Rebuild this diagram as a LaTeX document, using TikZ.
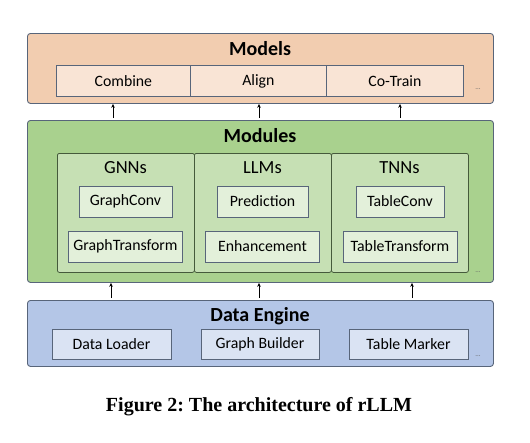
\documentclass[tikz,border=0pt]{standalone}
\usepackage{fontspec}
\setmainfont{Carlito}
\newfontfamily\capfont{Liberation Serif}
\usetikzlibrary{arrows.meta}
\frenchspacing
\definecolor{orOuter}{HTML}{F2CDB0}
\definecolor{orInner}{HTML}{F9E4D5}
\definecolor{grOuter}{HTML}{A9D18E}
\definecolor{grMid}{HTML}{C6E0B4}
\definecolor{grInner}{HTML}{E3F0DA}
\definecolor{blOuter}{HTML}{B4C6E7}
\definecolor{blInner}{HTML}{DAE3F3}
\definecolor{edgeBlue}{HTML}{58657A}
\definecolor{edgeGreen}{HTML}{56704A}
\tikzset{
  outerbox/.style={draw=edgeBlue, line width=0.9pt, rounded corners=3pt},
  panel/.style={draw=edgeGreen!80!black, line width=0.8pt, rounded corners=2pt, fill=grMid},
  leaf/.style={draw=edgeBlue, line width=0.8pt, inner sep=0pt},
  ttl/.style={font=\fontsize{20}{23}\selectfont\bfseries},
  ptl/.style={font=\fontsize{18.5}{21}\selectfont},
  lbl/.style={font=\fontsize{15.8}{18}\selectfont},
  dots/.style={font=\fontsize{7}{8}\selectfont, text=black!60},
  arr/.style={-{Stealth[length=4pt,width=3.5pt]}, line width=0.6pt}
}
\begin{document}
\begin{tikzpicture}[x=1pt,y=-1pt]
\useasboundingbox (0,0) rectangle (530,442);
% Models
\node[outerbox, fill=orOuter, minimum width=466pt, minimum height=70pt, anchor=north west] (models) at (27,33) {};
\node[ttl] (modelsT) at (260,49) {Models};
\node[leaf, fill=orInner, minimum width=134pt, minimum height=31pt, anchor=north west, lbl] (combine) at (56,65) {Combine};
\node[leaf, fill=orInner, minimum width=136pt, minimum height=31pt, anchor=north west, lbl] (align) at (190,65) {Align};
\node[leaf, fill=orInner, minimum width=137pt, minimum height=31pt, anchor=north west, lbl] (cotrain) at (326,65) {Co-Train};
\node[dots] (mdots) at (478,89) {...};
% Modules
\node[outerbox, fill=grOuter, minimum width=466pt, minimum height=162pt, anchor=north west] (modules) at (27,120) {};
\node[ttl] (modulesT) at (260,136) {Modules};
\node[panel, minimum width=137pt, minimum height=119pt, anchor=north west] (gnn) at (57,153) {};
\node[panel, minimum width=137pt, minimum height=119pt, anchor=north west] (llm) at (194,153) {};
\node[panel, minimum width=137pt, minimum height=119pt, anchor=north west] (tnn) at (331,153) {};
\node[ptl] (gnnT) at (125.5,168) {GNNs};
\node[ptl] (llmT) at (262.5,168) {LLMs};
\node[ptl] (tnnT) at (399.5,168) {TNNs};
\node[leaf, fill=grInner, minimum width=93pt, minimum height=31pt, lbl] (gconv) at (125.5,201.5) {GraphConv};
\node[leaf, fill=grInner, minimum width=114pt, minimum height=31pt, lbl] (gtrans) at (125.5,246.5) {GraphTransform};
\node[leaf, fill=grInner, minimum width=91pt, minimum height=31pt, lbl] (pred) at (262.5,201.5) {Prediction};
\node[leaf, fill=grInner, minimum width=114pt, minimum height=31pt, lbl] (enh) at (262.5,246.5) {Enhancement};
\node[leaf, fill=grInner, minimum width=88pt, minimum height=31pt, lbl] (tconv) at (400,201.5) {TableConv};
\node[leaf, fill=grInner, minimum width=114pt, minimum height=31pt, lbl] (ttrans) at (400,246.5) {TableTransform};
\node[dots] (mddots) at (478,272) {...};
% Data Engine
\node[outerbox, fill=blOuter, minimum width=466pt, minimum height=66pt, anchor=north west] (data) at (27,300) {};
\node[ttl] (dataT) at (260,316) {Data Engine};
\node[leaf, fill=blInner, minimum width=119pt, minimum height=30pt, lbl] (loader) at (111.5,344) {Data Loader};
\node[leaf, fill=blInner, minimum width=118pt, minimum height=30pt, lbl] (builder) at (260,344) {Graph Builder};
\node[leaf, fill=blInner, minimum width=119pt, minimum height=30pt, lbl] (marker) at (408.5,344) {Table Marker};
\node[dots] (ddots) at (478,356) {...};
% arrows Modules -> Models
\coordinate (a1) at (113,118); \coordinate (a2) at (259,118); \coordinate (a3) at (400,118);
\draw[arr] (a1) -- (a1 |- models.south);
\draw[arr] (a2) -- (a2 |- models.south);
\draw[arr] (a3) -- (a3 |- models.south);
% arrows Data -> Modules
\coordinate (b1) at (111,298); \coordinate (b2) at (259,298); \coordinate (b3) at (412,298);
\draw[arr] (b1) -- (b1 |- modules.south);
\draw[arr] (b2) -- (b2 |- modules.south);
\draw[arr] (b3) -- (b3 |- modules.south);
% caption
\node[font=\capfont\fontsize{20}{23}\selectfont\bfseries] (cap) at (259,407) {Figure 2: The architecture of rLLM};
\end{tikzpicture}
\end{document}
